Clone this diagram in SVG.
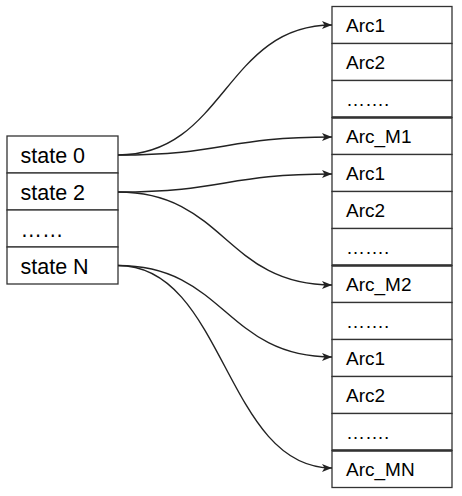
<svg xmlns="http://www.w3.org/2000/svg" width="462" height="496" viewBox="0 0 462 496">
<defs>
<style>
.cell{fill:#fff;stroke:#333;stroke-width:1.3}
.sep{stroke:#333;stroke-width:2.4}
.t{font-family:"Liberation Sans",Arial,sans-serif;font-size:19px;fill:#000}
.tl{font-family:"Liberation Sans",Arial,sans-serif;font-size:21.5px;fill:#000}
.e{fill:none;stroke:#222;stroke-width:1.4}
</style>
<marker id="ah" markerWidth="10" markerHeight="8" refX="10" refY="4" orient="auto" markerUnits="userSpaceOnUse" viewBox="0 0 10 8">
<path d="M0,0 L10,4 L0,8 L2.5,4 Z" fill="#222"/>
</marker>
</defs>
<rect width="462" height="496" fill="#fff"/>
<g id="states">
<rect class="cell" x="7" y="136" width="111" height="37"/>
<rect class="cell" x="7" y="173" width="111" height="37"/>
<rect class="cell" x="7" y="210" width="111" height="37"/>
<rect class="cell" x="7" y="247" width="111" height="37"/>
<text class="tl" x="20.5" y="163">state 0</text>
<text class="tl" x="20.5" y="200">state 2</text>
<text class="tl" x="20.5" y="237">……</text>
<text class="tl" x="20.5" y="274">state N</text>
</g>
<g id="arcs">
<rect class="cell" x="332" y="6.5" width="120" height="37"/>
<rect class="cell" x="332" y="43.5" width="120" height="37"/>
<rect class="cell" x="332" y="80.5" width="120" height="37"/>
<rect class="cell" x="332" y="117.5" width="120" height="37"/>
<rect class="cell" x="332" y="154.5" width="120" height="37"/>
<rect class="cell" x="332" y="191.5" width="120" height="37"/>
<rect class="cell" x="332" y="228.5" width="120" height="37"/>
<rect class="cell" x="332" y="265.5" width="120" height="37"/>
<rect class="cell" x="332" y="302.5" width="120" height="37"/>
<rect class="cell" x="332" y="339.5" width="120" height="37"/>
<rect class="cell" x="332" y="376.5" width="120" height="37"/>
<rect class="cell" x="332" y="413.5" width="120" height="37"/>
<rect class="cell" x="332" y="450.5" width="120" height="37"/>
<line class="sep" x1="332" y1="117.5" x2="452" y2="117.5"/>
<line class="sep" x1="332" y1="265.5" x2="452" y2="265.5"/>
<line class="sep" x1="332" y1="450.5" x2="452" y2="450.5"/>
<text class="t" x="346" y="32">Arc1</text>
<text class="t" x="346" y="69">Arc2</text>
<text class="t" x="346" y="106">…….</text>
<text class="t" x="346" y="143">Arc_M1</text>
<text class="t" x="346" y="180">Arc1</text>
<text class="t" x="346" y="217">Arc2</text>
<text class="t" x="346" y="254">…….</text>
<text class="t" x="346" y="291">Arc_M2</text>
<text class="t" x="346" y="328">…….</text>
<text class="t" x="346" y="365">Arc1</text>
<text class="t" x="346" y="402">Arc2</text>
<text class="t" x="346" y="439">…….</text>
<text class="t" x="346" y="476">Arc_MN</text>
</g>
<g id="connectors">
<path class="e" marker-end="url(#ah)" d="M118,155 C225,155 225,25 332,25"/>
<path class="e" marker-end="url(#ah)" d="M118,155 C225,155 225,137 332,137"/>
<path class="e" marker-end="url(#ah)" d="M118,192 C225,192 225,174 332,174"/>
<path class="e" marker-end="url(#ah)" d="M118,192 C225,192 225,285 332,285"/>
<path class="e" marker-end="url(#ah)" d="M118,265.5 C225,265.5 225,357 332,357"/>
<path class="e" marker-end="url(#ah)" d="M118,265.5 C225,265.5 225,468 332,468"/>
</g>
</svg>
